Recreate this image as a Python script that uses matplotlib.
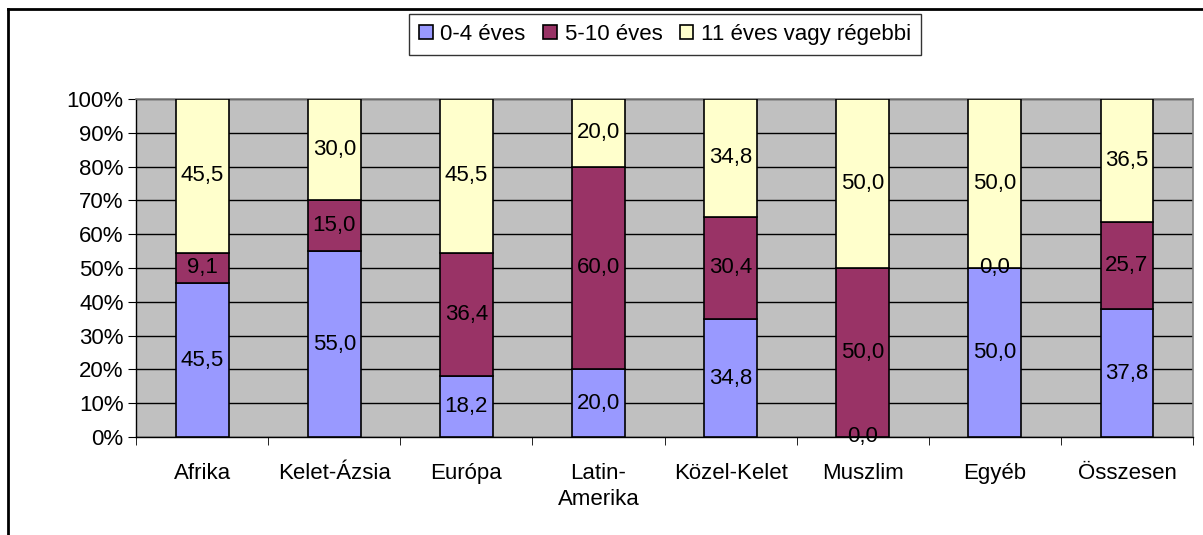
import matplotlib
matplotlib.use("Agg")
import matplotlib.pyplot as plt
from matplotlib.lines import Line2D
from matplotlib.ticker import FixedLocator, PercentFormatter
import numpy as np

plt.rcParams["font.family"] = ["Liberation Sans", "DejaVu Sans"]

categories = ["Afrika", "Kelet-Ázsia", "Európa", "Latin-\nAmerika", "Közel-Kelet",
              "Muszlim", "Egyéb", "Összesen"]
series_names = ["0-4 éves", "5-10 éves", "11 éves vagy régebbi"]
age_0_4 = [45.5, 55.0, 18.2, 20.0, 34.8, 0.0, 50.0, 37.8]
age_5_10 = [9.1, 15.0, 36.4, 60.0, 30.4, 50.0, 0.0, 25.7]
age_11_plus = [45.5, 30.0, 45.5, 20.0, 34.8, 50.0, 50.0, 36.5]
colors = ["#9999FF", "#993366", "#FFFFCC"]

FS = 16

fig = plt.figure(figsize=(12.03, 5.35), dpi=100)
ax = fig.add_axes([0.1131, 0.1832, 0.8786, 0.6318])
ax.set_facecolor("#C0C0C0")

vals = np.array([age_0_4, age_5_10, age_11_plus])
shares = vals / vals.sum(axis=0) * 100
x = np.arange(len(categories))
bottom = np.zeros(len(categories))
handles = []
for i in range(3):
    bars = ax.bar(x, shares[i], 0.4, bottom=bottom, color=colors[i],
                  edgecolor="black", linewidth=1.2, zorder=3, label=series_names[i])
    handles.append(bars)
    for xi, b, h, v in zip(x, bottom, shares[i], vals[i]):
        ax.text(xi, b + h / 2, f"{v:.1f}".replace(".", ","), ha="center",
                va="center", fontsize=FS, zorder=4)
    bottom += shares[i]

ax.set_xlim(-0.5, len(categories) - 0.5)
ax.set_ylim(0, 100)
ax.yaxis.set_major_locator(FixedLocator(np.arange(0, 101, 10)))
ax.yaxis.set_major_formatter(PercentFormatter(decimals=0))
ax.yaxis.grid(True, color="black", linewidth=1.0, zorder=1)
ax.set_axisbelow(True)
ax.set_xticks(x)
ax.set_xticklabels(categories, fontsize=FS, linespacing=1.3)
ax.set_xticks(np.arange(-0.5, len(categories), 1), minor=True)
ax.tick_params(axis="x", which="major", length=0, pad=19)
ax.tick_params(axis="x", which="minor", length=6, color="black", direction="out")
ax.tick_params(axis="y", labelsize=FS, length=6, direction="out", color="black", pad=3)

for s in ["top", "right"]:
    ax.spines[s].set_color("#808080")
    ax.spines[s].set_linewidth(1.2)
for s in ["left", "bottom"]:
    ax.spines[s].set_color("black")
    ax.spines[s].set_linewidth(1.0)

leg = fig.legend(handles=handles, labels=series_names, loc="upper center",
                 bbox_to_anchor=(0.553, 0.974), ncol=3, frameon=True, fancybox=False,
                 edgecolor="black", fontsize=FS, handlelength=0.6, handleheight=0.6,
                 handletextpad=0.35, columnspacing=0.8, borderpad=0.45, borderaxespad=0)
leg.get_frame().set_linewidth(1.0)

# outer chart border (top and left visible in the reference)
fig.add_artist(Line2D([8 / 1203, 8 / 1203], [0, 1 - 9 / 535], color="black",
                      linewidth=2, transform=fig.transFigure))
fig.add_artist(Line2D([8 / 1203, 1], [1 - 9 / 535, 1 - 9 / 535], color="black",
                      linewidth=2, transform=fig.transFigure))

fig.savefig("out.png", dpi=100)
